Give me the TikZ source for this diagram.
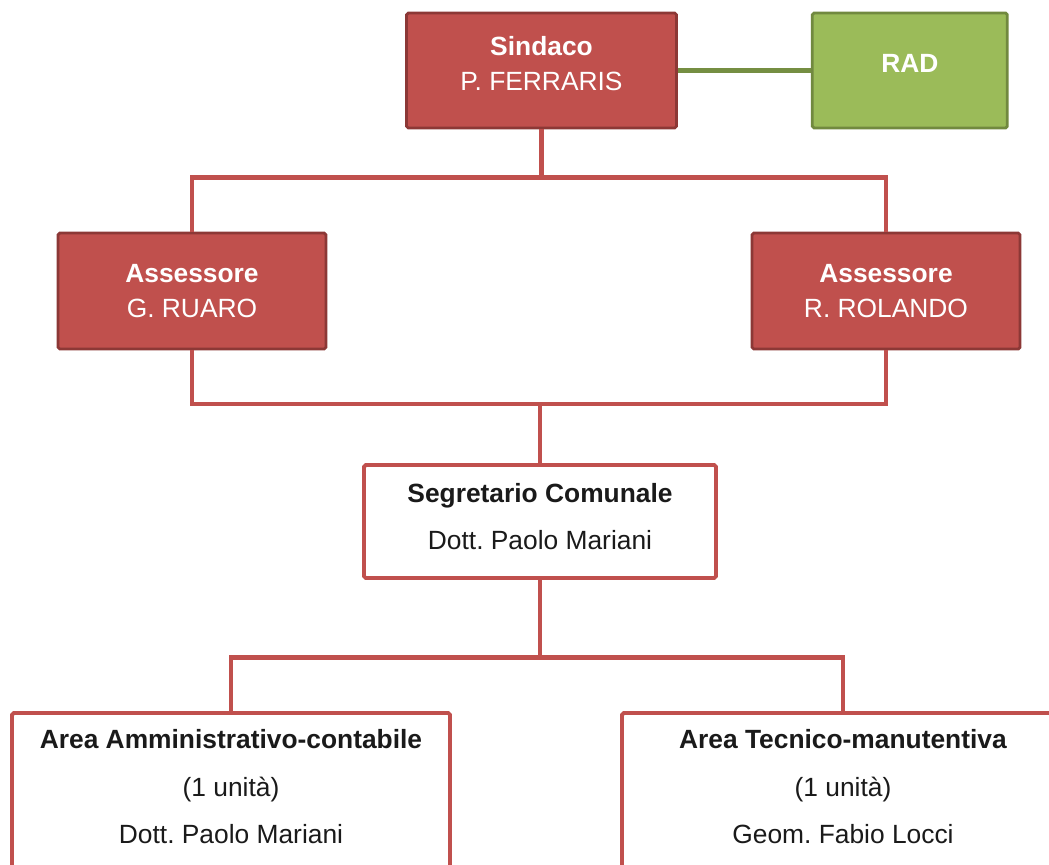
\documentclass[tikz,border=0pt]{standalone}
\usepackage{fontspec}
\setmainfont{Liberation Sans}
\usepackage{xcolor}
\usetikzlibrary{positioning}

\definecolor{redbox}{HTML}{C0504D}
\definecolor{redline}{HTML}{8C3836}
\definecolor{greenbox}{HTML}{9BBB59}
\definecolor{greenline}{HTML}{71893F}
\definecolor{darktext}{HTML}{1A1A1A}

% pushes a box's text a little upwards
\newcommand{\liftup}[1]{\rule[-#1]{0pt}{0pt}}

\begin{document}
\frenchspacing
\begin{tikzpicture}[every node/.style={font=\fontsize{15}{20}\selectfont}]
  % Styles
  \tikzstyle{boss}=[rectangle, draw=redline, line width=1.6pt, fill=redbox, text=white, minimum width=5.4cm, minimum height=2.3cm, align=center, rounded corners=1pt]
  \tikzstyle{staff}=[rectangle, draw=greenline, line width=1.6pt, fill=greenbox, text=white, minimum width=3.9cm, minimum height=2.3cm, align=center, rounded corners=1pt]
  \tikzstyle{office}=[rectangle, draw=redbox, line width=2.2pt, fill=white, text=darktext, align=center, rounded corners=1pt, font=\fontsize{15}{27}\selectfont]
  \tikzstyle{link}=[draw=redbox, line width=2.8pt]
  \tikzstyle{greenlink}=[draw=greenline!90!greenbox, line width=2.8pt]

  \clip (0,0) rectangle (20.98,-17.28);

  % Top row
  \node[boss] (sindaco) at (10.83,-1.41) {\textbf{Sindaco}\\P. FERRARIS\liftup{8.5pt}};
  \node[staff, right=2.66cm of sindaco] (rad) {\textbf{RAD}\liftup{8.5pt}};

  % Assessori
  \node[boss, minimum width=5.36cm, minimum height=2.32cm] (ruaro) at (3.84,-5.82) {\textbf{Assessore}\\G. RUARO};
  \node[boss, minimum width=5.36cm, minimum height=2.32cm] (rolando) at (17.72,-5.82) {\textbf{Assessore}\\R. ROLANDO};

  % Segretario
  \node[office, minimum width=7.04cm, minimum height=2.26cm] (segretario) at (10.80,-10.43) {\textbf{Segretario Comunale}\\Dott. Paolo Mariani\liftup{5.7pt}};

  % Areas
  \node[office, minimum width=8.76cm, minimum height=3.14cm] (amministrativa) at (4.62,-15.83) {\textbf{Area Amministrativo-contabile}\\(1 unità)\\Dott. Paolo Mariani\liftup{5.7pt}};
  \node[office, minimum width=8.84cm, minimum height=3.14cm] (tecnica) at (16.86,-15.83) {\textbf{Area Tecnico-manutentiva}\\(1 unità)\\Geom. Fabio Locci\liftup{5.7pt}};

  % Connectors
  \draw[greenlink] (sindaco.east) -- (rad.west);
  \draw[link] (sindaco.south) -- ++(0,-0.96) -| (ruaro.north);
  \draw[link] (sindaco.south) -- ++(0,-0.96) -| (rolando.north);
  \coordinate (joint) at (segretario.north |- 0,-8.08);
  \draw[link] (ruaro.south) |- (joint) -| (rolando.south);
  \draw[link] (joint) -- (segretario.north);
  \draw[link] (segretario.south) -- ++(0,-1.56) -| (amministrativa.north);
  \draw[link] (segretario.south) -- ++(0,-1.56) -| (tecnica.north);
\end{tikzpicture}
\end{document}
